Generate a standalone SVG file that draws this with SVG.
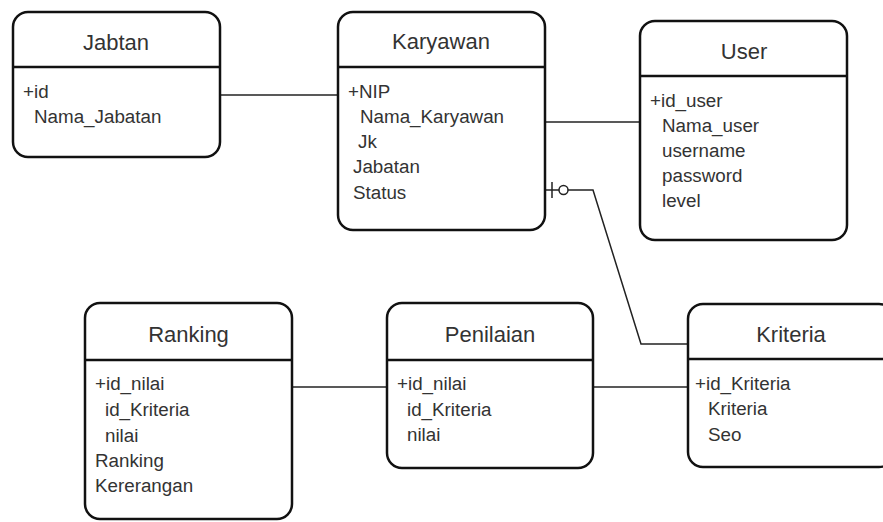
<svg xmlns="http://www.w3.org/2000/svg" width="883" height="522" viewBox="0 0 883 522">
<style>
.box{fill:#fff;stroke:#111;stroke-width:2.5}
.sep{stroke:#111;stroke-width:2.5}
.title{font-family:"Liberation Sans",Arial,sans-serif;font-size:22px;fill:#333;text-anchor:middle}
.attr{font-family:"Liberation Sans",Arial,sans-serif;font-size:18.8px;fill:#333}
.conn{fill:none;stroke:#222;stroke-width:1.5}
</style>
<rect width="883" height="522" fill="#fff"/>
<g id="connectors">
<line class="conn" x1="220" y1="95" x2="338" y2="95"/>
<line class="conn" x1="545" y1="122" x2="640" y2="122"/>
<polyline class="conn" points="545,190 559,190"/>
<line class="conn" x1="552" y1="182" x2="552" y2="198"/>
<circle class="conn" cx="563.5" cy="190" r="4.5"/>
<polyline class="conn" points="568,190 593,190 641,344 688,344"/>
<line class="conn" x1="292" y1="387" x2="387" y2="387"/>
<line class="conn" x1="593" y1="387" x2="688" y2="387"/>
</g>
<g id="Jabtan">
<rect class="box" x="13" y="12" width="207" height="145" rx="15"/>
<line class="sep" x1="13" y1="67" x2="220" y2="67"/>
<text class="title" x="116" y="50">Jabtan</text>
<text class="attr" x="23" y="98">+id</text>
<text class="attr" x="34" y="123">Nama_Jabatan</text>
</g>
<g id="Karyawan">
<rect class="box" x="338" y="12" width="207" height="218" rx="15"/>
<line class="sep" x1="338" y1="67" x2="545" y2="67"/>
<text class="title" x="441" y="49">Karyawan</text>
<text class="attr" x="348" y="98">+NIP</text>
<text class="attr" x="360" y="123">Nama_Karyawan</text>
<text class="attr" x="358" y="148">Jk</text>
<text class="attr" x="353" y="173">Jabatan</text>
<text class="attr" x="353" y="199">Status</text>
</g>
<g id="User">
<rect class="box" x="640" y="21" width="207" height="219" rx="15"/>
<line class="sep" x1="640" y1="76" x2="847" y2="76"/>
<text class="title" x="744" y="59">User</text>
<text class="attr" x="650" y="107">+id_user</text>
<text class="attr" x="662" y="132">Nama_user</text>
<text class="attr" x="662" y="157">username</text>
<text class="attr" x="662" y="182">password</text>
<text class="attr" x="662" y="207">level</text>
</g>
<g id="Ranking">
<rect class="box" x="85" y="303" width="207" height="216" rx="15"/>
<line class="sep" x1="85" y1="360" x2="292" y2="360"/>
<text class="title" x="188.5" y="342">Ranking</text>
<text class="attr" x="95" y="390">+id_nilai</text>
<text class="attr" x="105" y="416">id_Kriteria</text>
<text class="attr" x="105" y="442">nilai</text>
<text class="attr" x="95" y="467">Ranking</text>
<text class="attr" x="95" y="492">Kererangan</text>
</g>
<g id="Penilaian">
<rect class="box" x="387" y="303" width="206" height="165" rx="15"/>
<line class="sep" x1="387" y1="360" x2="593" y2="360"/>
<text class="title" x="490" y="342">Penilaian</text>
<text class="attr" x="397" y="390">+id_nilai</text>
<text class="attr" x="407" y="416">id_Kriteria</text>
<text class="attr" x="407" y="441">nilai</text>
</g>
<g id="Kriteria">
<rect class="box" x="688" y="304" width="206" height="163" rx="15"/>
<line class="sep" x1="688" y1="359" x2="894" y2="359"/>
<text class="title" x="791" y="342">Kriteria</text>
<text class="attr" x="695" y="390">+id_Kriteria</text>
<text class="attr" x="708" y="415">Kriteria</text>
<text class="attr" x="708" y="441">Seo</text>
</g>
</svg>
